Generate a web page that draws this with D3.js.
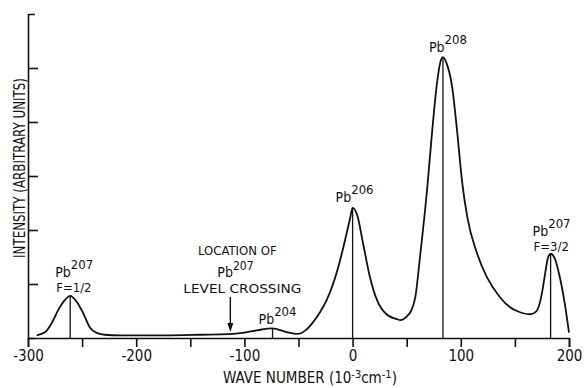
<!DOCTYPE html>
<html>
<head>
<meta charset="utf-8">
<script src="https://cdn.jsdelivr.net/npm/d3@7"></script>
<style>
  body { margin: 0; background: #fff; }
  svg text { font-family: "DejaVu Sans Condensed", "Liberation Sans Narrow", "DejaVu Sans", sans-serif; fill: #111; }
</style>
</head>
<body>
<div id="chart"></div>
<script>
// wave number (10^-3 cm^-1) and intensity
var waveNumber = [-292, -284, -278, -272, -266, -261, -255, -249, -243, -236, -229, -215, -200, -170, -140,
                  -115, -100, -89, -74, -61, -51, -43, -37, -30, -24, -14, -7, -2.5, 0, 4.5, 9.6, 16, 22.6,
                  31.8, 41, 44, 51, 54, 58, 62.3, 68.8, 73.4, 78, 81, 83.5, 87, 92, 96.5, 101, 106, 115, 124,
                  136, 145.5, 152, 164, 169, 172, 175, 178, 180.5, 183, 186.5, 191.5, 196, 200];
var intensity  = [0.05, 0.11, 0.28, 0.52, 0.70, 0.78, 0.67, 0.46, 0.20, 0.09, 0.06, 0.05, 0.05, 0.05, 0.06,
                  0.07, 0.10, 0.14, 0.18, 0.11, 0.075, 0.15, 0.28, 0.48, 0.70, 1.26, 1.81, 2.20, 2.41, 2.26, 1.76, 1.13, 0.70,
                  0.43, 0.35, 0.33, 0.42, 0.50, 0.76, 1.50, 2.74, 3.80, 4.72, 5.10, 5.20, 5.08, 4.65, 3.85, 2.93, 2.24, 1.57, 1.13,
                  0.76, 0.57, 0.50, 0.44, 0.48, 0.58, 0.83, 1.20, 1.48, 1.56, 1.49, 1.13, 0.65, 0.10];

// peaks: isotope, hyperfine level, position and height
var peakMass   = ["207", "204", "206", "208", "207"];
var peakLevel  = ["F=1/2", "", "", "", "F=3/2"];
var peakPos    = [-261, -74, 0, 83.5, 183];
var peakHeight = [0.78, 0.17, 2.41, 5.2, 1.56];

// level crossing marker
var crossingPos = -113;

var xTicks = [-300, -250, -200, -150, -100, -50, 0, 50, 100, 150, 200];
var yTicks = [1, 2, 3, 4, 5];

var width = 584, height = 388;
var margin = {top: 14, right: 15, bottom: 50, left: 28};

var svg = d3.select("#chart").append("svg")
    .attr("width", width)
    .attr("height", height);

var x = d3.scaleLinear().domain([-300, 200]).range([margin.left, width - margin.right]);
var y = d3.scaleLinear().domain([0, 6]).range([height - margin.bottom, margin.top]);

var data = waveNumber.map(function(d, i) { return {w: d, v: intensity[i]}; });

// x axis
var xAxis = d3.axisBottom(x)
    .tickValues(xTicks)
    .tickSize(9)
    .tickSizeOuter(9)
    .tickPadding(3)
    .tickFormat(function(d) { return d % 100 === 0 ? String(d) : ""; });

var gx = svg.append("g")
    .attr("transform", "translate(0," + y(0) + ")")
    .call(xAxis);
gx.selectAll("path, line").attr("stroke", "#111").attr("stroke-width", 1.6);
gx.selectAll("text").style("font-size", "15px").attr("fill", "#111");

// y axis, ticks pointing inward, no labels
var yAxis = d3.axisRight(y)
    .tickValues(yTicks)
    .tickSize(10)
    .tickSizeOuter(7)
    .tickFormat("");

var gy = svg.append("g")
    .attr("transform", "translate(" + x(-300) + ",0)")
    .call(yAxis);
gy.selectAll("path, line").attr("stroke", "#111").attr("stroke-width", 1.6);

// axis titles
svg.append("text")
    .attr("transform", "translate(" + 25 + "," + 168 + ") rotate(-90)")
    .attr("text-anchor", "middle")
    .attr("textLength", 180)
    .attr("lengthAdjust", "spacingAndGlyphs")
    .style("font-size", "15px")
    .text("INTENSITY (ARBITRARY UNITS)");

var xt = svg.append("text")
    .attr("x", 223)
    .attr("y", 383)
    .style("font-size", "15px");
xt.append("tspan").text("WAVE NUMBER (10");
xt.append("tspan").attr("dy", -5).style("font-size", "11px").text("-3");
xt.append("tspan").attr("dy", 5).text("cm");
xt.append("tspan").attr("dy", -5).style("font-size", "11px").text("-1");
xt.append("tspan").attr("dy", 5).text(")");

// the trace
var line = d3.line()
    .x(function(d) { return x(d.w); })
    .y(function(d) { return y(d.v); })
    .curve(d3.curveMonotoneX);

svg.append("path")
    .datum(data)
    .attr("fill", "none")
    .attr("stroke", "#111")
    .attr("stroke-width", 1.8)
    .attr("d", line);

// vertical markers at the peak centres
svg.selectAll(".peakLine")
    .data(peakPos)
  .enter().append("line")
    .attr("class", "peakLine")
    .attr("x1", function(d) { return x(d); })
    .attr("x2", function(d) { return x(d); })
    .attr("y1", function(d, i) { return y(peakHeight[i]); })
    .attr("y2", y(0))
    .attr("stroke", "#111")
    .attr("stroke-width", 1.3);

// peak labels: offsets from the peak top
var labelDx = [-15, -14, -17, -14, -18];
var labelDy = [-19, -5, -6, -5, -18];

peakPos.forEach(function(p, i) {
  var lx = x(p) + labelDx[i];
  var ly = y(peakHeight[i]) + labelDy[i];
  var t = svg.append("text")
      .attr("x", lx)
      .attr("y", ly)
      .style("font-size", "14px");
  t.append("tspan").text("Pb");
  t.append("tspan").attr("dy", -8).style("font-size", "13px").text(peakMass[i]);
  if (peakLevel[i] != "") {
    svg.append("text")
        .attr("x", lx + 1)
        .attr("y", ly + 15)
        .style("font-size", "13px")
        .text(peakLevel[i]);
  }
});

// level crossing arrow and note
var ax = x(crossingPos);
svg.append("line")
    .attr("x1", ax).attr("x2", ax)
    .attr("y1", 297).attr("y2", 325)
    .attr("stroke", "#111")
    .attr("stroke-width", 1.4);
svg.append("path")
    .attr("d", "M" + (ax - 3) + ",323 L" + (ax + 3) + ",323 L" + ax + ",332 Z")
    .attr("fill", "#111");

svg.append("text")
    .attr("x", ax + 7).attr("y", 255)
    .attr("text-anchor", "middle")
    .style("font-size", "13px")
    .text("LOCATION OF");
var note = svg.append("text")
    .attr("x", ax - 13).attr("y", 277)
    .style("font-size", "14px");
note.append("tspan").text("Pb");
note.append("tspan").attr("dy", -7).style("font-size", "12px").text("207");
svg.append("text")
    .attr("x", ax + 12).attr("y", 293)
    .attr("text-anchor", "middle")
    .attr("textLength", 118)
    .attr("lengthAdjust", "spacingAndGlyphs")
    .style("font-size", "13px")
    .text("LEVEL CROSSING");
</script>
</body>
</html>
